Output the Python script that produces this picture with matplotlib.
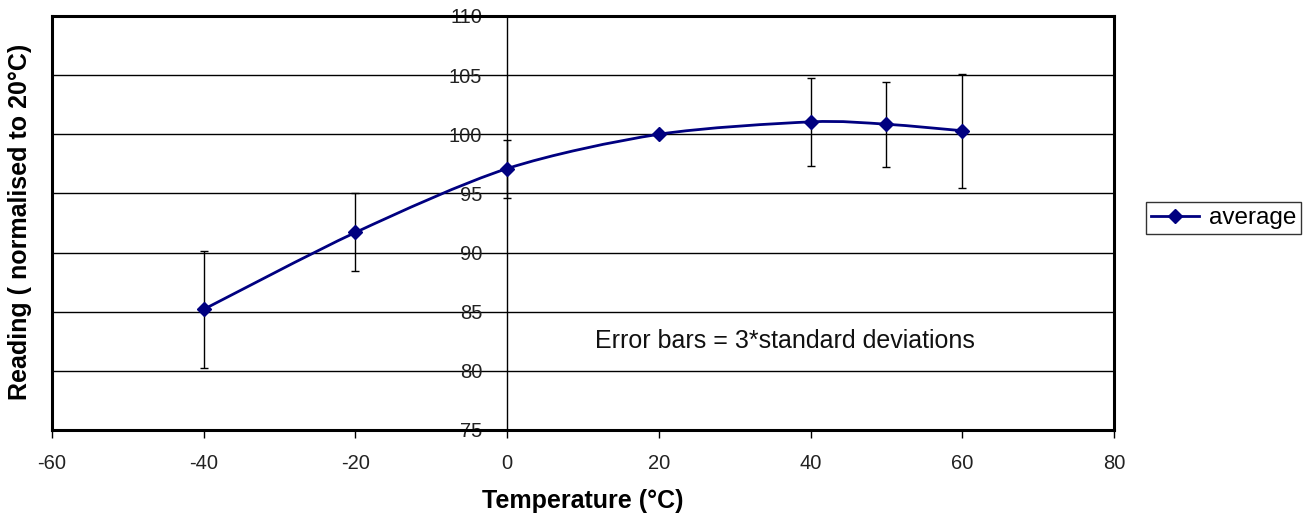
import matplotlib
matplotlib.use("Agg")
import matplotlib.pyplot as plt
from matplotlib.path import Path
from matplotlib.patches import PathPatch
from matplotlib.lines import Line2D
import numpy as np

plt.rcParams['font.family'] = ['Liberation Sans', 'DejaVu Sans']
plt.rcParams['axes.unicode_minus'] = False

temperature = [-40, -20, 0, 20, 40, 50, 60]
average = [85.2, 91.7, 97.1, 100.0, 101.05, 100.85, 100.3]
error = [4.95, 3.3, 2.45, 0.0, 3.7, 3.6, 4.8]
x_ticks = [-60, -40, -20, 0, 20, 40, 60, 80]
y_ticks = [75, 80, 85, 90, 95, 100, 105, 110]

navy = '#000080'

fig = plt.figure(figsize=(13.11, 5.2), dpi=100)
ax = fig.add_axes([52/1311, 90/520, (1114-52)/1311, (430-16)/520])
ax.set_xlim(-60, 80)
ax.set_ylim(75, 110)

# gridlines
ax.set_yticks(y_ticks)
ax.set_xticks(x_ticks)
ax.yaxis.grid(True, color='black', lw=1.0)
ax.set_axisbelow(True)

# frame
for s in ['top', 'right', 'bottom']:
    ax.spines[s].set_linewidth(2.2)
ax.spines['left'].set_position(('data', 0))
ax.spines['left'].set_linewidth(1.0)
ax.axvline(-60, color='black', lw=2.2, clip_on=False)

ax.tick_params(axis='y', length=0, pad=18, labelsize=14.5, labelcolor='#222222')
ax.tick_params(axis='x', direction='out', length=6, width=1, pad=11, labelsize=14.5, labelcolor='#222222')

# smoothed line (cardinal spline -> cubic Bezier)
pts = np.column_stack([temperature, average])
verts = [tuple(pts[0])]
codes = [Path.MOVETO]
n = len(pts)
k = 1.0 / 7.0
for i in range(n - 1):
    p0 = pts[i - 1] if i > 0 else pts[i]
    p1 = pts[i]
    p2 = pts[i + 1]
    p3 = pts[i + 2] if i + 2 < n else pts[i + 1]
    c1 = p1 + (p2 - p0) * k
    c2 = p2 - (p3 - p1) * k
    verts += [tuple(c1), tuple(c2), tuple(p2)]
    codes += [Path.CURVE4] * 3
ax.add_patch(PathPatch(Path(verts, codes), facecolor='none', edgecolor=navy, lw=2.0, zorder=3))

ax.errorbar(temperature, average, yerr=error, fmt='none', ecolor='black',
            elinewidth=1.0, capsize=3, capthick=1.0, zorder=2)
ax.plot(temperature, average, linestyle='none', marker='D', markersize=7,
        color=navy, zorder=4)

ax.text(11.6, 82.5, 'Error bars = 3*standard deviations', fontsize=18,
        va='center', ha='left', color='#111111')

ax.set_xlabel('Temperature (°C)', fontsize=18, fontweight='bold', labelpad=12)
fig.text(20/1311, 1 - 222/520, 'Reading ( normalised to 20°C)', rotation=90,
         fontsize=18, fontweight='bold', ha='center', va='center')

handle = Line2D([], [], color=navy, lw=2.0, marker='D', markersize=7)
leg = fig.legend([handle], ['average'], loc='center left',
                 bbox_to_anchor=(1146/1311, 1 - 218/520), fontsize=17.5,
                 frameon=True, fancybox=False, borderpad=0.2, handlelength=2.0,
                 handletextpad=0.4, borderaxespad=0)
leg.get_frame().set_edgecolor('black')
leg.get_frame().set_linewidth(1.0)

fig.savefig('out.png', dpi=100)
